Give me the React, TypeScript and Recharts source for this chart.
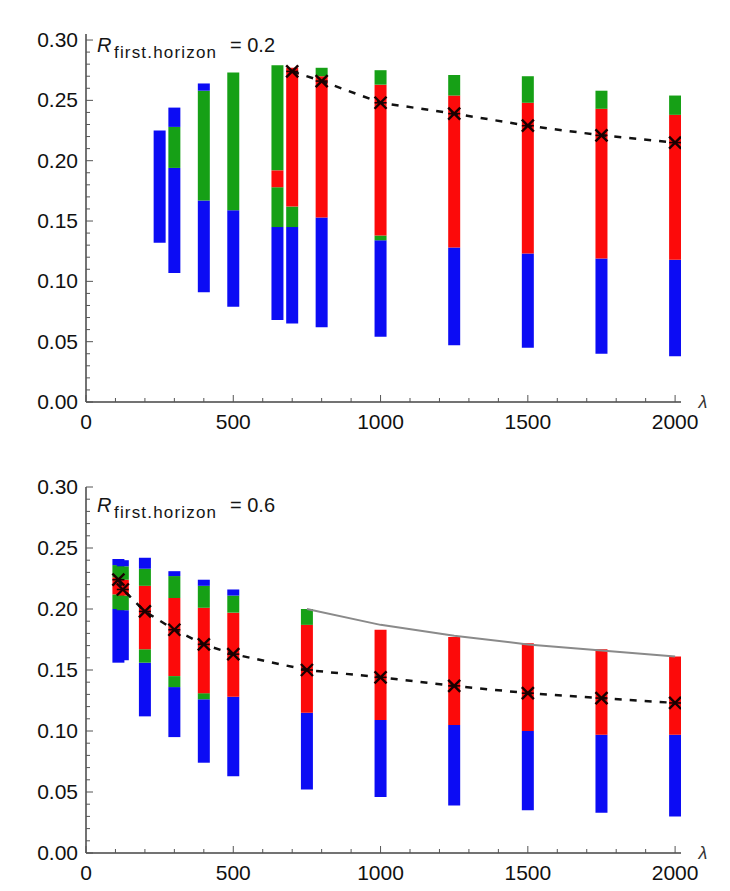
import React from 'react';
import { ComposedChart, Line, XAxis, YAxis } from 'recharts';

// colour keys for the column bands
const COLORS: Record<string, string> = { B: '#0c0cf4', R: '#fc0a0a', G: '#16a016' };

// ---- upper panel (R_first.horizon = 0.2) ----
const topLambda = [250, 300, 400, 500, 650, 700, 800, 1000, 1250, 1500, 1750, 2000];
const topLow = [0.132, 0.107, 0.091, 0.079, 0.068, 0.065, 0.062, 0.054, 0.047, 0.045, 0.04, 0.038];
// each band: [colour, upper edge], stacked from topLow upwards
const topBands: [string, number][][] = [
  [['B', 0.225]],
  [['B', 0.194], ['G', 0.228], ['B', 0.244]],
  [['B', 0.167], ['G', 0.258], ['B', 0.264]],
  [['B', 0.159], ['G', 0.273]],
  [['B', 0.145], ['G', 0.178], ['R', 0.192], ['G', 0.279]],
  [['B', 0.145], ['G', 0.162], ['R', 0.277]],
  [['B', 0.153], ['R', 0.27], ['G', 0.277]],
  [['B', 0.134], ['G', 0.138], ['R', 0.263], ['G', 0.275]],
  [['B', 0.128], ['R', 0.254], ['G', 0.271]],
  [['B', 0.123], ['R', 0.248], ['G', 0.27]],
  [['B', 0.119], ['R', 0.243], ['G', 0.258]],
  [['B', 0.118], ['R', 0.238], ['G', 0.254]],
];
const topDashLambda = [700, 800, 1000, 1250, 1500, 1750, 2000];
const topDashValue = [0.274, 0.266, 0.248, 0.239, 0.229, 0.221, 0.215];

// ---- lower panel (R_first.horizon = 0.6) ----
const bottomLambda = [110, 125, 200, 300, 400, 500, 750, 1000, 1250, 1500, 1750, 2000];
const bottomLow = [0.156, 0.158, 0.112, 0.095, 0.074, 0.063, 0.052, 0.046, 0.039, 0.035, 0.033, 0.03];
const bottomBands: [string, number][][] = [
  [['B', 0.2], ['G', 0.212], ['R', 0.226], ['G', 0.236], ['B', 0.241]],
  [['B', 0.199], ['G', 0.211], ['R', 0.224], ['G', 0.235], ['B', 0.24]],
  [['B', 0.156], ['G', 0.167], ['R', 0.219], ['G', 0.233], ['B', 0.242]],
  [['B', 0.136], ['G', 0.145], ['R', 0.209], ['G', 0.227], ['B', 0.231]],
  [['B', 0.126], ['G', 0.131], ['R', 0.201], ['G', 0.219], ['B', 0.224]],
  [['B', 0.128], ['R', 0.197], ['G', 0.211], ['B', 0.216]],
  [['B', 0.115], ['R', 0.187], ['G', 0.2]],
  [['B', 0.109], ['R', 0.183]],
  [['B', 0.105], ['R', 0.177]],
  [['B', 0.1], ['R', 0.172]],
  [['B', 0.097], ['R', 0.167]],
  [['B', 0.097], ['R', 0.161]],
];
const bottomDashLambda = [110, 125, 200, 300, 400, 500, 750, 1000, 1250, 1500, 1750, 2000];
const bottomDashValue = [0.224, 0.216, 0.198, 0.183, 0.171, 0.163, 0.15, 0.144, 0.137, 0.131, 0.127, 0.123];
const grayLambda = [750, 1000, 1250, 1500, 1750, 2000];
const grayValue = [0.2, 0.187, 0.178, 0.171, 0.166, 0.161];

const xMajor = [0, 500, 1000, 1500, 2000];
const xMinorStep = 100;
const yMajor = [0, 0.05, 0.1, 0.15, 0.2, 0.25, 0.3];
const yMinorStep = 0.01;

const xTicks = Array.from({ length: 21 }, (_, i) => i * xMinorStep);
const yTicks = Array.from({ length: 31 }, (_, i) => Number((i * yMinorStep).toFixed(2)));

const FONT = '"Liberation Sans", Arial, sans-serif';

function columns(lambda: number[], low: number[], bands: [string, number][][]) {
  const segs: { key: string; color: string; data: { x: number; y: number }[] }[] = [];
  lambda.forEach((x, i) => {
    let from = low[i];
    bands[i].forEach(([c, to], j) => {
      segs.push({ key: `c${i}-${j}`, color: COLORS[c], data: [{ x, y: from }, { x, y: to }] });
      from = to;
    });
  });
  return segs;
}

const pairs = (xs: number[], ys: number[]) => xs.map((x, i) => ({ x, y: ys[i] }));

const XTick = (props: any) => {
  const { x, y, payload } = props;
  const v = payload.value;
  const major = xMajor.includes(v);
  return (
    <g>
      <line x1={x} x2={x} y1={y} y2={y - (major ? 7 : 4)} stroke="#555" strokeWidth={1} />
      {major && (
        <text x={x} y={y + 27} textAnchor="middle" fontSize={21} fontFamily={FONT} fill="#111">
          {v}
        </text>
      )}
    </g>
  );
};

const YTick = (props: any) => {
  const { x, y, payload } = props;
  const v = payload.value;
  const major = yMajor.some((m) => Math.abs(m - v) < 1e-6);
  return (
    <g>
      <line x1={x} x2={x + (major ? 7 : 4)} y1={y} y2={y} stroke="#555" strokeWidth={1} />
      {major && (
        <text x={x - 8} y={y + 7} textAnchor="end" fontSize={21} fontFamily={FONT} fill="#111">
          {v.toFixed(2)}
        </text>
      )}
    </g>
  );
};

const XMark = (props: any) => {
  const { cx, cy, index } = props;
  if (cx == null || cy == null) return <g key={`m${index}`} />;
  const s = 6;
  return (
    <g key={`m${index}`}>
      <line x1={cx - s} y1={cy - s} x2={cx + s} y2={cy + s} stroke="#1a0000" strokeWidth={2.4} />
      <line x1={cx - s} y1={cy + s} x2={cx + s} y2={cy - s} stroke="#1a0000" strokeWidth={2.4} />
      <line x1={cx - s} y1={cy} x2={cx + s} y2={cy} stroke="#1a0000" strokeWidth={1.6} />
    </g>
  );
};

interface PanelProps {
  height: number;
  top: number;
  yMax: number;
  lambda: number[];
  low: number[];
  bands: [string, number][][];
  dash: { x: number; y: number }[];
  gray?: { x: number; y: number }[];
  rValue: string;
  labelY: number;
}

const Panel = ({ height, top, yMax, lambda, low, bands, dash, gray, rValue, labelY }: PanelProps) => {
  const segs = columns(lambda, low, bands);
  const axisY = height - 8 - 30;
  return (
    <div style={{ position: 'relative', width: 730, height }}>
      <ComposedChart width={730} height={height} margin={{ top, right: 49, bottom: 8, left: 36 }}>
        <XAxis
          dataKey="x"
          type="number"
          domain={[0, 2020]}
          ticks={xTicks}
          interval={0}
          tickSize={0}
          tickMargin={0}
          tick={<XTick />}
          height={30}
          axisLine={{ stroke: '#444', strokeWidth: 1.5 }}
          allowDataOverflow
        />
        <YAxis
          type="number"
          domain={[0, yMax]}
          ticks={yTicks}
          interval={0}
          tickSize={0}
          tickMargin={0}
          tick={<YTick />}
          width={50}
          axisLine={{ stroke: '#444', strokeWidth: 1.5 }}
          allowDataOverflow
        />
        {segs.map((s) => (
          <Line
            key={s.key}
            data={s.data}
            dataKey="y"
            type="linear"
            stroke={s.color}
            strokeWidth={12}
            dot={false}
            activeDot={false}
            isAnimationActive={false}
          />
        ))}
        {gray && (
          <Line
            data={gray}
            dataKey="y"
            type="linear"
            stroke="#8a8a8a"
            strokeWidth={2}
            dot={false}
            activeDot={false}
            isAnimationActive={false}
          />
        )}
        <Line
          data={dash}
          dataKey="y"
          type="linear"
          stroke="#111"
          strokeWidth={2.5}
          strokeDasharray="7 8"
          dot={(p: any) => <XMark key={`m${p.index}`} {...p} />}
          activeDot={false}
          isAnimationActive={false}
        />
      </ComposedChart>
      <svg
        width={730}
        height={height}
        style={{ position: 'absolute', left: 0, top: 0, pointerEvents: 'none' }}
      >
        <text x={97} y={labelY} fontSize={20} fontStyle="italic" fontFamily={FONT} fill="#151515">
          R
        </text>
        <text
          x={114}
          y={labelY + 6}
          fontSize={17}
          fontFamily={FONT}
          fill="#151515"
          textLength={102}
          lengthAdjust="spacing"
        >
          first.horizon
        </text>
        <text x={230} y={labelY} fontSize={20} fontFamily={FONT} fill="#151515">
          {`= ${rValue}`}
        </text>
        <text x={703} y={axisY + 6} textAnchor="middle" fontSize={18} fontStyle="italic" fontFamily={FONT} fill="#333">
          λ
        </text>
      </svg>
    </div>
  );
};

export default function App() {
  return (
    <div style={{ position: 'absolute', left: 0, top: 0, width: 730, height: 891, background: '#fff' }}>
      <Panel
        height={440}
        top={34}
        yMax={0.305}
        lambda={topLambda}
        low={topLow}
        bands={topBands}
        dash={pairs(topDashLambda, topDashValue)}
        rValue="0.2"
        labelY={52}
      />
      <Panel
        height={451}
        top={47}
        yMax={0.3}
        lambda={bottomLambda}
        low={bottomLow}
        bands={bottomBands}
        dash={pairs(bottomDashLambda, bottomDashValue)}
        gray={pairs(grayLambda, grayValue)}
        rValue="0.6"
        labelY={72}
      />
    </div>
  );
}
